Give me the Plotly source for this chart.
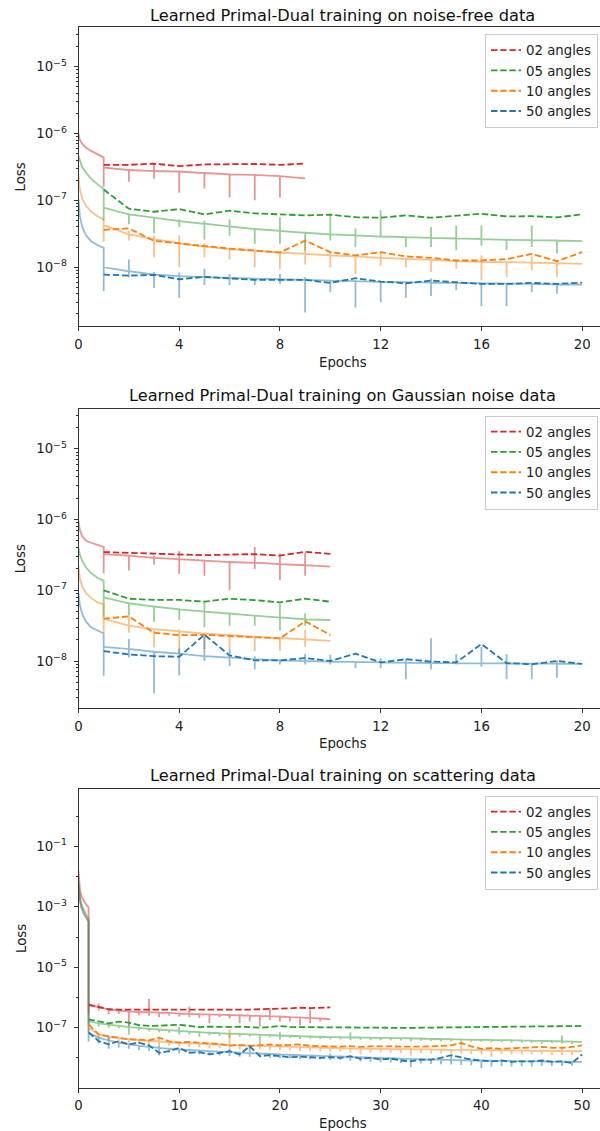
import plotly.graph_objects as go

FONT = "DejaVu Sans"
W, H = 600, 1131

LABELS = ["02 angles", "05 angles", "10 angles", "50 angles"]
COLORS = ["#d62728", "#2ca02c", "#ff7f0e", "#1f77b4"]
TRAIN_COLORS = ["rgba(214,39,40,0.5)", "rgba(44,160,44,0.5)",
                "rgba(255,127,14,0.5)", "rgba(31,119,180,0.5)"]

# x positions (epochs) of the readings taken along the first epoch
EPOCH0_X = [0, 0.05, 0.15, 0.3, 0.5, 0.75, 1.0]

# ---------------- noise-free ----------------
nf_red_head = [1.0e-6, 8.0e-7, 7.0e-7, 6.1e-7, 5.5e-7, 4.9e-7, 4.4e-7]
nf_red_train = [3.1e-7, 2.85e-7, 2.75e-7, 2.7e-7, 2.57e-7, 2.45e-7, 2.4e-7, 2.3e-7, 2.14e-7]
nf_red_lo = [1.6e-7, 1.9e-7, 2.1e-7, 1.3e-7, 1.5e-7, 1.1e-7, 1.0e-7, 1.1e-7]
nf_red_hi = {3: 3.6e-7}
nf_red_val = [3.4e-7, 3.4e-7, 3.55e-7, 3.25e-7, 3.45e-7, 3.45e-7, 3.5e-7, 3.4e-7, 3.55e-7]

nf_green_head = [4.6e-7, 3.9e-7, 3.1e-7, 2.6e-7, 2.1e-7, 1.75e-7, 1.48e-7]
nf_green_train = [7.76e-8, 6.17e-8, 5.5e-8, 4.9e-8, 4.47e-8, 4.07e-8, 3.72e-8, 3.5e-8, 3.27e-8, 3.09e-8,
                  2.99e-8, 2.88e-8, 2.82e-8, 2.75e-8, 2.69e-8, 2.63e-8, 2.57e-8, 2.54e-8, 2.51e-8, 2.45e-8]
nf_green_lo = [5.0e-8, 4.4e-8, 3.2e-8, 4.0e-8, 2.6e-8, 2.95e-8, 2.25e-8, 2.25e-8, 1.8e-8, 2.5e-8,
               2.0e-8, 2.8e-8, 2.0e-8, 2.0e-8, 1.8e-8, 2.1e-8, 1.8e-8, 2.0e-8, 1.6e-8]
nf_green_hi = {4: 5.2e-8, 5: 5.0e-8, 6: 5.2e-8, 8: 5.6e-8, 10: 6.3e-8, 11: 3.8e-8, 12: 7.1e-8,
               14: 4.0e-8, 15: 4.2e-8, 16: 4.2e-8, 18: 4.2e-8}
nf_green_val = [1.45e-7, 7.5e-8, 6.76e-8, 7.4e-8, 6.17e-8, 7.0e-8, 6.4e-8, 6.17e-8, 5.96e-8, 6.1e-8,
                5.6e-8, 5.5e-8, 5.96e-8, 5.5e-8, 5.96e-8, 6.3e-8, 5.75e-8, 5.8e-8, 5.56e-8, 6.17e-8]

nf_orange_head = [2.3e-7, 1.5e-7, 1.05e-7, 8.3e-8, 6.8e-8, 5.8e-8, 5.2e-8]
nf_orange_train = [4.27e-8, 3.09e-8, 2.63e-8, 2.29e-8, 2.04e-8, 1.86e-8, 1.76e-8, 1.66e-8, 1.58e-8, 1.5e-8,
                   1.45e-8, 1.38e-8, 1.33e-8, 1.29e-8, 1.23e-8, 1.2e-8, 1.19e-8, 1.17e-8, 1.15e-8, 1.12e-8]
nf_orange_lo = [2.4e-8, 2.5e-8, 1.4e-8, 1.0e-8, 1.4e-8, 1.3e-8, 1.0e-8, 9.3e-9, 1.1e-8, 1.0e-8,
                7.9e-9, 1.05e-8, 1.0e-8, 8.5e-9, 9.5e-9, 6.3e-9, 7.1e-9, 8.9e-9, 7.1e-9]
nf_orange_hi = {2: 3.5e-8, 3: 3.0e-8, 4: 3.0e-8, 5: 2.3e-8, 9: 2.5e-8, 10: 1.7e-8, 12: 1.7e-8,
                16: 1.5e-8, 18: 1.45e-8}
nf_orange_val = [3.63e-8, 3.8e-8, 2.48e-8, 2.24e-8, 2.07e-8, 1.9e-8, 1.78e-8, 1.66e-8, 2.5e-8, 1.68e-8,
                 1.5e-8, 1.68e-8, 1.45e-8, 1.38e-8, 1.26e-8, 1.26e-8, 1.32e-8, 1.58e-8, 1.23e-8, 1.68e-8]

nf_blue_head = [1.05e-7, 5.9e-8, 4.0e-8, 3.0e-8, 2.45e-8, 2.15e-8, 1.95e-8]
nf_blue_train = [1.0e-8, 8.7e-9, 7.76e-9, 7.33e-9, 7.08e-9, 6.92e-9, 6.76e-9, 6.6e-9, 6.46e-9, 6.31e-9,
                 6.17e-9, 6.03e-9, 5.96e-9, 5.89e-9, 5.82e-9, 5.75e-9, 5.69e-9, 5.62e-9, 5.56e-9, 5.5e-9]
nf_blue_lo = [4.4e-9, 7.1e-9, 4.9e-9, 3.5e-9, 5.4e-9, 5.4e-9, 5.4e-9, 5.6e-9, 2.1e-9, 4.2e-9,
              2.5e-9, 3.0e-9, 3.5e-9, 3.7e-9, 4.5e-9, 2.6e-9, 2.6e-9, 4.2e-9, 4.0e-9]
nf_blue_hi = {2: 1.3e-8, 3: 8.5e-9, 4: 8.3e-9, 5: 9.5e-9, 6: 7.9e-9, 8: 7.9e-9, 9: 7.1e-9, 14: 6.8e-9}
nf_blue_val = [7.76e-9, 7.5e-9, 7.67e-9, 6.6e-9, 7.16e-9, 6.76e-9, 6.46e-9, 6.46e-9, 6.46e-9, 5.82e-9,
               6.84e-9, 6.1e-9, 5.75e-9, 6.3e-9, 5.96e-9, 5.62e-9, 5.62e-9, 5.82e-9, 5.62e-9, 5.89e-9]

# ---------------- Gaussian noise ----------------
gn_red_head = [9.5e-7, 7.2e-7, 5.8e-7, 5.0e-7, 4.7e-7, 4.4e-7, 4.1e-7]
gn_red_train = [3.24e-7, 3.09e-7, 2.88e-7, 2.75e-7, 2.63e-7, 2.51e-7, 2.45e-7, 2.34e-7, 2.26e-7, 2.16e-7]
gn_red_lo = [1.74e-7, 1.9e-7, 2.3e-7, 1.7e-7, 1.6e-7, 1.0e-7, 2.0e-7, 1.4e-7, 1.6e-7]
gn_red_hi = {3: 3.1e-7, 4: 3.6e-7, 7: 4.1e-7, 8: 3.3e-7, 9: 3.4e-7}
gn_red_val = [3.47e-7, 3.39e-7, 3.24e-7, 3.24e-7, 3.13e-7, 3.2e-7, 3.24e-7, 3.09e-7, 3.5e-7, 3.27e-7]

gn_green_head = [4.0e-7, 3.2e-7, 2.6e-7, 2.1e-7, 1.75e-7, 1.5e-7, 1.37e-7]
gn_green_train = [7.94e-8, 6.53e-8, 5.89e-8, 5.37e-8, 5.0e-8, 4.68e-8, 4.37e-8, 4.12e-8, 3.89e-8, 3.8e-8]
gn_green_lo = [4.2e-8, 4.4e-8, 3.55e-8, 3.8e-8, 3.0e-8, 3.16e-8, 3.16e-8, 2.7e-8, 3.16e-8]
gn_green_hi = {5: 7.1e-8, 8: 6.5e-8, 9: 4.7e-8}
gn_green_val = [1.0e-7, 7.6e-8, 7.3e-8, 7.3e-8, 6.9e-8, 7.6e-8, 7.25e-8, 6.76e-8, 7.6e-8, 6.9e-8]

gn_orange_head = [2.2e-7, 1.48e-7, 1.12e-7, 9.1e-8, 7.8e-8, 6.8e-8, 6.3e-8]
gn_orange_train = [3.94e-8, 3.16e-8, 2.82e-8, 2.63e-8, 2.45e-8, 2.32e-8, 2.19e-8, 2.11e-8, 2.02e-8, 1.93e-8]
gn_orange_lo = [2.5e-8, 2.5e-8, 1.55e-8, 1.26e-8, 1.48e-8, 1.48e-8, 1.38e-8, 1.38e-8, 1.58e-8]
gn_orange_hi = {2: 4.3e-8, 4: 2.8e-8, 9: 2.8e-8}
gn_orange_val = [3.98e-8, 4.27e-8, 2.51e-8, 2.32e-8, 2.34e-8, 2.26e-8, 2.14e-8, 2.09e-8, 3.63e-8, 2.34e-8]

gn_blue_head = [9.1e-8, 6.3e-8, 4.6e-8, 3.6e-8, 3.0e-8, 2.7e-8, 2.45e-8]
gn_blue_train = [1.58e-8, 1.48e-8, 1.35e-8, 1.27e-8, 1.17e-8, 1.12e-8, 1.06e-8, 1.02e-8, 1.0e-8, 9.8e-9,
                 9.7e-9, 9.55e-9, 9.46e-9, 9.38e-9, 9.33e-9, 9.27e-9, 9.23e-9, 9.2e-9, 9.16e-9, 9.12e-9]
gn_blue_lo = [6.2e-9, 1.12e-8, 3.5e-9, 6.3e-9, 1.0e-8, 8.5e-9, 7.6e-9, 8.9e-9, 8.9e-9, 8.9e-9,
              7.9e-9, 7.9e-9, 5.5e-9, 7.6e-9, 8.9e-9, 8.3e-9, 5.5e-9, 5.5e-9, 5.8e-9]
gn_blue_hi = {2: 2.05e-8, 4: 1.5e-8, 5: 2.2e-8, 6: 1.48e-8, 7: 1.17e-8, 9: 1.26e-8, 10: 1.23e-8,
              12: 1.1e-8, 13: 1.07e-8, 14: 2.1e-8, 15: 1.26e-8, 16: 1.58e-8, 17: 1.26e-8, 19: 1.02e-8}
gn_blue_val = [1.38e-8, 1.24e-8, 1.17e-8, 1.15e-8, 2.35e-8, 1.2e-8, 1.02e-8, 1.02e-8, 1.1e-8, 1.0e-8,
               1.27e-8, 9.55e-9, 1.06e-8, 9.8e-9, 9.55e-9, 1.74e-8, 9.33e-9, 9.0e-9, 1.0e-8, 9.12e-9]

# ---------------- scattering ----------------
sc_red_head = [1.5e-2, 6e-3, 3.5e-3, 2.2e-3, 1.6e-3, 1.2e-3, 9.5e-4]
sc_red_train = [5.6e-7, 4.8e-7, 4.0e-7, 3.7e-7, 3.47e-7, 3.3e-7, 3.24e-7, 3.16e-7, 3.09e-7, 2.95e-7,
                2.88e-7, 2.82e-7, 2.75e-7, 2.69e-7, 2.63e-7, 2.57e-7, 2.51e-7, 2.45e-7, 2.4e-7, 2.34e-7,
                2.24e-7, 2.19e-7, 2.09e-7, 2.0e-7, 1.9e-7]
sc_red_lo = [3.0e-7, 3.6e-7, 2.8e-7, 2.9e-7, 1.12e-7, 2.6e-7, 2.5e-7, 2.2e-7, 2.5e-7, 2.3e-7,
             2.2e-7, 2.1e-7, 1.4e-7, 2.2e-7, 2.0e-7, 1.4e-7, 1.6e-7, 1.12e-7, 1.8e-7, 1.6e-7,
             1.6e-7, 1.2e-7, 1.4e-7, 1.6e-7]
sc_red_hi = {2: 6.3e-7, 7: 8.9e-7, 11: 5.0e-7, 19: 4.5e-7, 23: 4.0e-7}
sc_red_val = [5.75e-7, 4.9e-7, 4.07e-7, 3.98e-7, 3.98e-7, 3.89e-7, 3.98e-7, 3.8e-7, 3.89e-7, 3.8e-7,
              3.89e-7, 3.8e-7, 3.8e-7, 3.8e-7, 3.89e-7, 3.89e-7, 3.98e-7, 4.07e-7, 4.07e-7, 4.27e-7,
              4.37e-7, 4.57e-7, 4.47e-7, 4.57e-7, 4.68e-7]

sc_green_head = [7e-3, 3.5e-3, 2.0e-3, 1.2e-3, 8e-4, 5.5e-4, 4.0e-4]
sc_green_train = [1.66e-7, 1.38e-7, 1.26e-7, 1.15e-7, 1.05e-7, 9.8e-8, 9.1e-8, 8.7e-8, 8.3e-8, 7.8e-8,
                  7.4e-8, 7.1e-8, 6.8e-8, 6.6e-8, 6.3e-8, 6.2e-8, 6.0e-8, 5.9e-8, 5.7e-8, 5.5e-8,
                  5.4e-8, 5.25e-8, 5.1e-8, 5.0e-8, 4.9e-8, 4.85e-8, 4.8e-8, 4.73e-8, 4.68e-8, 4.62e-8,
                  4.57e-8, 4.52e-8, 4.47e-8, 4.37e-8, 4.27e-8, 4.22e-8, 4.17e-8, 4.07e-8, 4.03e-8, 3.98e-8,
                  3.94e-8, 3.89e-8, 3.85e-8, 3.8e-8, 3.72e-8, 3.67e-8, 3.63e-8, 3.55e-8, 3.47e-8, 3.39e-8]
sc_green_lo = [1.2e-7, 1.1e-7, 1.0e-7, 9.5e-8, 6.0e-8, 8.0e-8, 7.5e-8, 7.0e-8, 6.8e-8, 6.0e-8,
               6.0e-8, 5.0e-8, 5.6e-8, 5.4e-8, 4.5e-8, 5.0e-8, 5.0e-8, 2.8e-8, 4.8e-8, 4.0e-8,
               4.6e-8, 4.2e-8, 4.3e-8, 4.2e-8, 4.1e-8, 4.1e-8, 3.9e-8, 4.0e-8, 3.9e-8, 3.9e-8,
               3.8e-8, 3.8e-8, 3.5e-8, 3.7e-8, 3.6e-8, 3.5e-8, 3.5e-8, 3.4e-8, 3.4e-8, 3.4e-8,
               3.3e-8, 3.3e-8, 3.2e-8, 3.2e-8, 3.1e-8, 2.9e-8, 3.1e-8, 3.0e-8, 2.9e-8]
sc_green_hi = {5: 1.4e-7, 10: 1.05e-7, 20: 7.0e-8, 27: 7.0e-8, 48: 5.5e-8}
sc_green_val = [1.9e-7, 1.65e-7, 1.38e-7, 1.58e-7, 1.48e-7, 1.22e-7, 1.15e-7, 1.17e-7, 1.2e-7, 1.25e-7,
                1.15e-7, 1.05e-7, 1.08e-7, 1.05e-7, 1.05e-7, 1.08e-7, 1.05e-7, 1.0e-7, 1.05e-7, 1.14e-7,
                1.05e-7, 1.04e-7, 1.03e-7, 1.03e-7, 1.0e-7, 1.02e-7, 1.0e-7, 1.0e-7, 9.9e-8, 9.8e-8,
                1.0e-7, 9.9e-8, 9.8e-8, 1.0e-7, 1.01e-7, 1.02e-7, 1.03e-7, 1.02e-7, 1.04e-7, 1.05e-7,
                1.04e-7, 1.05e-7, 1.05e-7, 1.06e-7, 1.07e-7, 1.07e-7, 1.08e-7, 1.09e-7, 1.1e-7, 1.14e-7]

sc_orange_head = [6e-3, 3e-3, 1.7e-3, 1.0e-3, 7e-4, 5e-4, 3.5e-4]
sc_orange_train = [1.0e-7, 6.0e-8, 4.9e-8, 4.5e-8, 4.2e-8, 3.9e-8, 3.7e-8, 3.5e-8, 3.3e-8, 3.16e-8,
                   3.05e-8, 2.95e-8, 2.85e-8, 2.75e-8, 2.63e-8, 2.6e-8, 2.55e-8, 2.5e-8, 2.45e-8, 2.4e-8,
                   2.35e-8, 2.3e-8, 2.25e-8, 2.2e-8, 2.14e-8, 2.1e-8, 2.07e-8, 2.04e-8, 2.02e-8, 2.0e-8,
                   1.98e-8, 1.96e-8, 1.94e-8, 1.92e-8, 1.9e-8, 1.88e-8, 1.86e-8, 1.84e-8, 1.83e-8, 1.82e-8,
                   1.8e-8, 1.79e-8, 1.77e-8, 1.76e-8, 1.74e-8, 1.72e-8, 1.71e-8, 1.69e-8, 1.68e-8, 1.66e-8]
sc_orange_lo = [7.0e-8, 4.5e-8, 3.8e-8, 3.4e-8, 3.2e-8, 3.0e-8, 2.8e-8, 2.7e-8, 2.5e-8, 2.4e-8,
                2.3e-8, 2.2e-8, 2.1e-8, 2.1e-8, 2.0e-8, 1.9e-8, 1.9e-8, 1.9e-8, 1.8e-8, 1.8e-8,
                1.75e-8, 1.7e-8, 1.7e-8, 1.65e-8, 1.6e-8, 1.6e-8, 1.55e-8, 1.3e-8, 1.5e-8, 1.5e-8,
                1.5e-8, 1.45e-8, 1.2e-8, 1.45e-8, 1.4e-8, 1.4e-8, 1.4e-8, 1.4e-8, 1.35e-8, 1.3e-8,
                1.1e-8, 1.35e-8, 1.3e-8, 1.3e-8, 1.3e-8, 1.3e-8, 1.25e-8, 1.25e-8, 1.25e-8]
sc_orange_hi = {8: 4.7e-8, 15: 9e-8, 22: 2.9e-8, 38: 3.1e-8, 48: 2.4e-8}
sc_orange_val = [1.3e-7, 6.0e-8, 5.2e-8, 4.7e-8, 4.1e-8, 4.0e-8, 3.8e-8, 4.7e-8, 3.5e-8, 3.2e-8,
                 3.4e-8, 3.15e-8, 3.0e-8, 2.9e-8, 2.55e-8, 2.7e-8, 2.5e-8, 2.7e-8, 2.8e-8, 2.6e-8,
                 2.65e-8, 2.8e-8, 2.5e-8, 2.45e-8, 2.45e-8, 2.35e-8, 2.45e-8, 2.3e-8, 2.4e-8, 2.45e-8,
                 2.4e-8, 2.35e-8, 2.3e-8, 2.35e-8, 2.4e-8, 2.45e-8, 2.6e-8, 3.1e-8, 2.4e-8, 2.0e-8,
                 2.1e-8, 2.0e-8, 2.05e-8, 2.15e-8, 2.2e-8, 2.3e-8, 2.15e-8, 2.15e-8, 2.3e-8, 2.6e-8]

sc_blue_head = [5e-3, 2.5e-3, 1.5e-3, 9e-4, 6e-4, 4.3e-4, 3.2e-4]
sc_blue_train = [6.8e-8, 4.7e-8, 3.8e-8, 3.2e-8, 2.8e-8, 2.5e-8, 2.3e-8, 2.15e-8, 2.0e-8, 1.9e-8,
                 1.82e-8, 1.75e-8, 1.67e-8, 1.6e-8, 1.55e-8, 1.5e-8, 1.45e-8, 1.4e-8, 1.35e-8, 1.3e-8,
                 1.27e-8, 1.23e-8, 1.2e-8, 1.17e-8, 1.14e-8, 1.11e-8, 1.08e-8, 1.05e-8, 1.02e-8, 1.0e-8,
                 9.7e-9, 9.5e-9, 9.3e-9, 9.0e-9, 8.8e-9, 8.7e-9, 8.6e-9, 8.4e-9, 8.3e-9, 8.2e-9,
                 8.1e-9, 8.0e-9, 7.9e-9, 7.8e-9, 7.7e-9, 7.65e-9, 7.6e-9, 7.5e-9, 7.45e-9, 7.4e-9]
sc_blue_lo = [3.5e-8, 3.0e-8, 2.0e-8, 2.2e-8, 2.0e-8, 1.8e-8, 1.7e-8, 1.2e-8, 1.5e-8, 1.4e-8,
              1.35e-8, 1.3e-8, 1.25e-8, 1.2e-8, 1.15e-8, 1.1e-8, 1.1e-8, 1.05e-8, 1.0e-8, 1.0e-8,
              9.5e-9, 9.2e-9, 9.0e-9, 8.8e-9, 8.5e-9, 8.3e-9, 8.0e-9, 7.8e-9, 7.5e-9, 7.2e-9,
              7.0e-9, 6.8e-9, 5.0e-9, 6.5e-9, 6.3e-9, 6.2e-9, 6.0e-9, 5.8e-9, 5.7e-9, 4.5e-9,
              5.2e-9, 5.4e-9, 5.2e-9, 5.3e-9, 5.2e-9, 5.4e-9, 5.3e-9, 5.4e-9, 5.5e-9]
sc_blue_hi = {3: 5.0e-8, 8: 2.6e-8, 15: 2.0e-8, 17: 2.6e-8, 25: 1.4e-8, 37: 1.25e-8}
sc_blue_val = [7.0e-8, 3.6e-8, 2.8e-8, 3.6e-8, 2.8e-8, 3.2e-8, 2.6e-8, 1.47e-8, 1.67e-8, 2.15e-8,
               1.47e-8, 1.55e-8, 1.3e-8, 1.47e-8, 1.67e-8, 1.3e-8, 2.45e-8, 1.14e-8, 1.23e-8, 1.14e-8,
               1.05e-8, 1.1e-8, 1.05e-8, 1.0e-8, 1.05e-8, 1.0e-8, 1.14e-8, 9.3e-9, 1.0e-8, 8.8e-9,
               9.5e-9, 8.2e-9, 7.7e-9, 8.8e-9, 8.8e-9, 1.0e-8, 1.23e-8, 1.05e-8, 8.8e-9, 8.2e-9,
               7.7e-9, 8.2e-9, 7.4e-9, 7.7e-9, 7.7e-9, 8.2e-9, 7.4e-9, 7.7e-9, 6.8e-9, 1.3e-8]

TITLES = ["Learned Primal-Dual training on noise-free data",
          "Learned Primal-Dual training on Gaussian noise data",
          "Learned Primal-Dual training on scattering data"]

PANELS = [
    [(nf_red_head, nf_red_train, nf_red_lo, nf_red_hi, nf_red_val),
     (nf_green_head, nf_green_train, nf_green_lo, nf_green_hi, nf_green_val),
     (nf_orange_head, nf_orange_train, nf_orange_lo, nf_orange_hi, nf_orange_val),
     (nf_blue_head, nf_blue_train, nf_blue_lo, nf_blue_hi, nf_blue_val)],
    [(gn_red_head, gn_red_train, gn_red_lo, gn_red_hi, gn_red_val),
     (gn_green_head, gn_green_train, gn_green_lo, gn_green_hi, gn_green_val),
     (gn_orange_head, gn_orange_train, gn_orange_lo, gn_orange_hi, gn_orange_val),
     (gn_blue_head, gn_blue_train, gn_blue_lo, gn_blue_hi, gn_blue_val)],
    [(sc_red_head, sc_red_train, sc_red_lo, sc_red_hi, sc_red_val),
     (sc_green_head, sc_green_train, sc_green_lo, sc_green_hi, sc_green_val),
     (sc_orange_head, sc_orange_train, sc_orange_lo, sc_orange_hi, sc_orange_val),
     (sc_blue_head, sc_blue_train, sc_blue_lo, sc_blue_hi, sc_blue_val)],
]

X_TICKS = [[0, 4, 8, 12, 16, 20], [0, 4, 8, 12, 16, 20], [0, 10, 20, 30, 40, 50]]
X_RANGES = [[0, 20.71], [0, 20.71], [0, 51.78]]
Y_TICK_EXP = [[-8, -7, -6, -5], [-8, -7, -6, -5], [-7, -5, -3, -1]]
Y_RANGES = [[-8.88, -4.41], [-8.67, -4.43], [-8.98, 0.91]]

# pixel layout of each panel: (top, bottom) of plot area, title centre, xlabel centre, legend top
PANEL_PX = [(27.3, 326.0, 15.2, 362.0, 34.0),
            (408.5, 708.4, 395.3, 743.0, 415.5),
            (788.7, 1087.5, 775.3, 1123.0, 795.5)]
LEFT_PX = 75.0
TXT = 13.3
TTL = 16.2


def train_path(head, level, lo, hi):
    xs = list(EPOCH0_X)
    ys = list(head)
    n = len(level)
    for k in range(1, n):
        lv = level[k - 1]
        lo_v = lo[k - 1] if k - 1 < len(lo) and lo[k - 1] is not None else lv
        hi_v = hi.get(k, lv)
        if k > 1:
            xs.append(k)
            ys.append(lv)
        xs += [k, k, k]
        ys += [lo_v, hi_v, lv]
    xs.append(n)
    ys.append(level[-1])
    return xs, ys


def sup(e):
    return "10<sup>\u2212%d</sup>" % (-e) if e < 0 else "10<sup>%d</sup>" % e


fig = go.Figure()
annotations = []
layout = dict(width=W, height=H, margin=dict(l=0, r=0, t=0, b=0),
              paper_bgcolor="white", plot_bgcolor="white", showlegend=True,
              font=dict(family=FONT, size=TXT, color="#222"))

for p, series in enumerate(PANELS):
    suffix = "" if p == 0 else str(p + 1)
    xa, ya = "x" + suffix, "y" + suffix
    leg = "legend" + suffix
    for i, (head, level, lo, hi, val) in enumerate(series):
        tx, ty = train_path(head, level, lo, hi)
        fig.add_trace(go.Scatter(x=tx, y=ty, mode="lines", xaxis=xa, yaxis=ya,
                                 line=dict(color=TRAIN_COLORS[i], width=1.8),
                                 showlegend=False, hoverinfo="skip"))
    for i, (head, level, lo, hi, val) in enumerate(series):
        fig.add_trace(go.Scatter(x=list(range(1, len(val) + 1)), y=val, mode="lines",
                                 xaxis=xa, yaxis=ya, name=LABELS[i], legend=leg,
                                 legendgroup="g%d_%d" % (p, i),
                                 line=dict(color=COLORS[i], width=1.8, dash="6.4px,2.8px")))

    top, bot, ttl, xl, legtop = PANEL_PX[p]
    ydom = [1 - bot / H, 1 - top / H]
    exps = Y_TICK_EXP[p]
    lo_e, hi_e = int(Y_RANGES[p][0]) - 1, int(Y_RANGES[p][1]) + 1
    if p < 2:
        minor_vals = [m * 10.0 ** e for e in range(lo_e, hi_e + 1) for m in range(2, 10)]
    else:
        minor_vals = [10.0 ** e for e in range(lo_e, hi_e + 1) if e not in exps]
    layout["xaxis" + suffix] = dict(
        domain=[LEFT_PX / W, 1.0], range=X_RANGES[p], anchor=ya,
        tickmode="array", tickvals=X_TICKS[p], ticks="outside", ticklen=4, tickwidth=1,
        tickcolor="#333", showline=True, linecolor="#333", linewidth=1, mirror=True,
        showgrid=False, zeroline=False, ticklabelstandoff=2,
        tickfont=dict(family=FONT, size=TXT, color="#222"))
    layout["yaxis" + suffix] = dict(
        domain=ydom, type="log", range=Y_RANGES[p], anchor=xa,
        tickmode="array", tickvals=[10.0 ** e for e in exps], ticktext=[sup(e) for e in exps],
        ticks="outside", ticklen=4, tickwidth=1, tickcolor="#333",
        minor=dict(tickmode="array", tickvals=minor_vals, ticks="outside", ticklen=2,
                   tickwidth=0.8, tickcolor="#333", showgrid=False),
        showline=True, linecolor="#333", linewidth=1, mirror=False, ticklabelstandoff=4,
        showgrid=False, zeroline=False, tickfont=dict(family=FONT, size=TXT, color="#222"))
    layout[leg] = dict(x=598 / W, xanchor="right", y=1 - legtop / H, yanchor="top",
                       bgcolor="rgba(255,255,255,0.85)", bordercolor="#cccccc", borderwidth=1,
                       font=dict(family=FONT, size=TXT, color="#222"), tracegroupgap=0,
                       itemwidth=30)
    annotations.append(dict(text=TITLES[p], x=341 / W, y=1 - ttl / H, xref="paper", yref="paper",
                            xanchor="center", yanchor="middle", showarrow=False,
                            font=dict(family=FONT, size=TTL, color="#111")))
    annotations.append(dict(text="Epochs", x=341 / W, y=1 - xl / H, xref="paper", yref="paper",
                            xanchor="center", yanchor="middle", showarrow=False,
                            font=dict(family=FONT, size=TXT, color="#222")))
    annotations.append(dict(text="Loss", x=17 / W, y=1 - (top + bot) / 2 / H, xref="paper",
                            yref="paper", xanchor="center", yanchor="middle", textangle=-90,
                            showarrow=False, font=dict(family=FONT, size=TXT, color="#222")))

layout["annotations"] = annotations
fig.update_layout(**layout)
fig.write_html("out.html")
